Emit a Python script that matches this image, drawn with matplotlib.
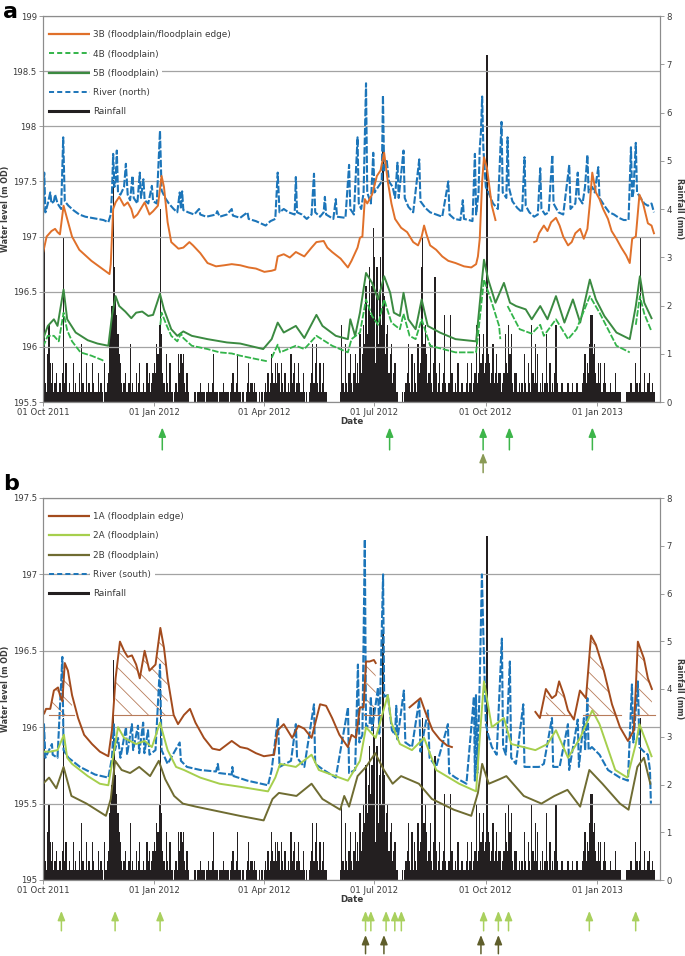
import numpy as np
import pandas as pd
import matplotlib
matplotlib.use('Agg')
import matplotlib.pyplot as plt
import matplotlib.dates as mdates
from matplotlib.lines import Line2D
from matplotlib.ticker import FuncFormatter, MultipleLocator
from matplotlib.transforms import blended_transform_factory

START = pd.Timestamp('2011-10-01')

# ---- daily rainfall (mm), one list per month, from 01 Oct 2011 ----
rain_oct11 = [0.2, 3.2, 0.4, 0.2, 1.0, 1.6, 0.8, 0.4, 0.8, 0.2,
              0.4, 0.6, 0.2, 0.2, 0.4, 0.2, 0.6, 3.4, 0.4, 0.8,
              0.2, 0.2, 0.4, 0.2, 0.2, 0.8, 0.2, 0.4, 0.2, 0.2, 0.6]
rain_nov11 = [0.2, 1.2, 0.4, 0.2, 0.2, 0.8, 0.2, 0.4, 0.2, 0.2,
              0.8, 0.4, 0.2, 0.2, 0.2, 0.6, 0.2, 0.4, 0.2, 0.0,
              0.8, 0.2, 0.4, 0.6, 1.4, 1.6, 2.0, 4.6, 2.8, 2.2]
rain_dec11 = [1.8, 1.4, 1.0, 0.8, 0.4, 0.2, 0.4, 0.6, 0.2, 0.2,
              0.4, 1.2, 0.2, 0.4, 0.2, 0.2, 0.6, 0.2, 0.4, 0.8,
              0.2, 0.2, 0.4, 0.2, 0.2, 0.8, 0.4, 0.6, 0.2, 0.4, 0.6]
rain_jan12 = [0.8, 0.6, 1.2, 1.0, 1.6, 4.0, 1.4, 0.6, 0.4, 0.2,
              1.0, 0.4, 0.2, 0.8, 0.2, 0.2, 0.0, 0.2, 0.4, 0.2,
              1.0, 0.6, 1.0, 0.8, 1.0, 0.4, 0.2, 0.6, 0.2, 0.0, 0.0]
rain_feb12 = [0.0, 0.0, 0.2, 0.2, 0.0, 0.2, 0.2, 0.4, 0.2, 0.2,
              0.2, 0.0, 0.2, 0.2, 0.4, 0.2, 0.2, 0.4, 1.0, 0.2,
              0.2, 0.2, 0.0, 0.2, 0.2, 0.2, 0.4, 0.2, 0.2]
rain_mar12 = [0.2, 0.2, 0.0, 0.2, 0.4, 0.6, 0.2, 0.2, 0.4, 1.0,
              0.2, 0.2, 0.0, 0.2, 0.2, 0.0, 0.2, 0.4, 0.8, 0.2,
              0.4, 0.4, 0.2, 0.4, 0.2, 0.0, 0.0, 0.2, 0.0, 0.2, 0.0]
rain_apr12 = [0.2, 0.4, 0.2, 0.6, 0.2, 0.4, 1.0, 0.6, 0.4, 0.8,
              0.4, 0.8, 0.6, 0.2, 0.8, 0.4, 0.2, 0.6, 0.2, 0.2,
              0.4, 0.2, 1.0, 0.4, 0.6, 0.8, 0.2, 0.4, 0.8, 0.4]
rain_may12 = [0.2, 0.2, 0.6, 0.2, 0.0, 0.2, 0.0, 0.2, 0.4, 0.6,
              1.2, 0.4, 0.8, 1.2, 0.4, 0.2, 0.8, 0.2, 0.4, 0.8,
              0.2, 0.2, 0.0, 0.0, 0.0, 0.0, 0.0, 0.0, 0.0, 0.0, 0.0]
rain_jun12 = [0.0, 0.0, 0.2, 1.6, 0.4, 0.2, 1.2, 0.4, 0.2, 0.6,
              1.0, 0.4, 0.2, 0.6, 1.0, 0.4, 0.8, 0.4, 1.4, 0.6,
              1.0, 1.6, 1.2, 2.4, 1.4, 2.0, 2.8, 1.8, 2.4, 3.6]
rain_jul12 = [3.0, 0.8, 2.8, 1.2, 2.2, 3.0, 1.6, 5.2, 2.2, 1.0,
              1.4, 1.6, 0.6, 1.0, 1.2, 0.4, 0.6, 0.8, 0.2, 0.2,
              0.0, 0.0, 0.0, 0.2, 0.0, 0.2, 0.4, 0.6, 1.2, 0.4, 0.2]
rain_aug12 = [1.0, 0.2, 0.8, 0.4, 0.2, 1.2, 0.6, 0.8, 2.8, 3.4,
              1.2, 1.6, 1.0, 0.4, 0.6, 1.2, 0.4, 0.2, 0.8, 2.6,
              0.6, 0.2, 0.4, 0.8, 0.2, 0.4, 0.6, 1.8, 0.4, 0.2, 0.4]
rain_sep12 = [0.4, 1.8, 0.6, 0.2, 0.2, 0.4, 0.2, 0.8, 0.2, 0.2,
              0.4, 0.4, 0.2, 0.2, 0.4, 0.8, 0.2, 0.4, 0.8, 0.2,
              0.4, 0.6, 1.6, 0.4, 0.6, 1.4, 0.8, 1.0, 1.4, 0.6]
rain_oct12 = [0.8, 7.2, 1.0, 0.8, 0.4, 0.6, 1.2, 0.4, 0.6, 1.0,
              0.4, 0.6, 0.6, 0.2, 0.4, 0.6, 1.4, 0.8, 0.6, 1.6,
              1.0, 1.4, 0.4, 0.2, 0.6, 0.6, 0.2, 0.2, 0.4, 0.2, 0.4]
rain_nov12 = [0.2, 1.0, 0.4, 0.2, 0.8, 0.4, 0.2, 1.6, 0.6, 0.4,
              1.2, 0.4, 1.0, 0.2, 0.4, 0.2, 0.6, 0.2, 0.4, 1.4,
              0.4, 0.2, 0.8, 0.2, 0.4, 0.2, 0.6, 1.6, 0.4, 0.2]
rain_dec12 = [0.2, 0.2, 0.4, 0.2, 0.2, 0.2, 0.2, 0.4, 0.2, 0.2,
              0.2, 0.4, 0.2, 0.2, 0.4, 0.4, 0.2, 0.2, 0.2, 0.4,
              0.6, 1.0, 0.4, 0.8, 0.6, 1.2, 1.8, 1.8, 1.0, 1.2, 0.6]
rain_jan13 = [0.4, 0.8, 0.4, 0.8, 0.2, 0.4, 0.8, 0.4, 0.2, 0.2,
              0.2, 0.4, 0.2, 0.2, 0.2, 0.6, 0.2, 0.2, 0.2, 0.2,
              0.0, 0.0, 0.0, 0.0, 0.2, 0.2, 0.2, 0.2, 0.4, 0.2, 0.2]
rain_feb13 = [0.2, 0.8, 0.4, 0.2, 0.4, 3.4, 0.2, 0.2, 0.6, 0.2,
              0.2, 0.4, 0.6, 0.2, 0.2, 0.4, 0.2]

rainfall = (rain_oct11 + rain_nov11 + rain_dec11 + rain_jan12 + rain_feb12 +
            rain_mar12 + rain_apr12 + rain_may12 + rain_jun12 + rain_jul12 +
            rain_aug12 + rain_sep12 + rain_oct12 + rain_nov12 + rain_dec12 +
            rain_jan13 + rain_feb13)

nan = np.nan

# ---- water levels (m OD): (days since 01 Oct 2011, level), nan = no record ----
# panel a
lvl_3b = [(0, 196.85), (3, 197.0), (7, 197.05), (10, 197.07), (12, 197.04), (14, 197.02),
          (17, 197.28), (19, 197.2), (24, 197.0), (30, 196.88), (40, 196.78), (50, 196.70),
          (55, 196.66), (56, 196.75), (58, 197.25), (60, 197.31), (63, 197.36), (67, 197.28),
          (70, 197.31), (73, 197.25), (75, 197.17), (78, 197.2), (84, 197.31), (88, 197.2),
          (91, 197.23), (95, 197.28), (98, 197.55), (100, 197.45), (103, 197.13), (106, 196.95),
          (109, 196.92), (112, 196.89), (116, 196.9), (121, 196.95), (124, 196.92), (130, 196.85),
          (136, 196.76), (143, 196.73), (150, 196.74), (156, 196.75), (163, 196.74), (170, 196.72),
          (176, 196.71), (183, 196.68), (189, 196.69), (192, 196.7), (194, 196.82), (199, 196.84),
          (204, 196.81), (209, 196.86), (216, 196.82), (222, 196.9), (226, 196.95), (232, 196.96),
          (235, 196.9), (239, 196.86), (246, 196.8), (252, 196.72), (255, 196.78), (260, 196.9),
          (262, 196.99), (264, 197.0), (266, 197.34), (268, 197.3), (272, 197.38), (276, 197.55),
          (279, 197.6), (282, 197.76), (285, 197.5), (288, 197.3), (291, 197.16), (296, 197.08),
          (301, 197.04), (306, 196.95), (310, 196.92), (313, 197.0), (315, 197.1), (317, 197.02),
          (320, 196.92), (325, 196.88), (330, 196.82), (335, 196.78), (341, 196.76), (348, 196.73),
          (354, 196.72), (358, 196.75), (359.5, 196.82), (361, 196.98), (363, 197.5), (364.5, 197.72),
          (367, 197.62), (371, 197.28), (374, 197.15), (390, nan),
          (406, 196.95), (408, 196.96), (410, 197.03), (414, 197.1), (417, 197.05), (420, 197.13),
          (424, 197.17), (427, 197.1), (430, 197.0), (434, 196.92), (437, 196.95), (440, 197.03),
          (444, 197.07), (447, 196.98), (450, 197.07), (452, 197.3), (454, 197.58), (457, 197.4),
          (460, 197.34), (463, 197.25), (467, 197.16), (470, 197.05), (474, 196.98), (478, 196.9),
          (482, 196.83), (485, 196.76), (487, 196.98), (490, 197.0), (493, 197.38), (496, 197.3),
          (500, 197.12), (503, 197.1), (505, 197.03)]

lvl_4b = [(0, 196.0), (4, 196.1), (9, 196.1), (13, 196.05), (17, 196.31), (20, 196.15), (24, 196.05),
          (31, 195.95), (40, 195.92), (49, 195.88), (50.4, 195.87), (70, nan),
          (97, 196.2), (98, 196.31), (102, 196.2), (106, 196.1), (111, 196.05), (114, 196.12),
          (116, 196.08), (123, 196.01), (136, 195.98), (146, 195.95), (156, 195.94), (163, 195.92),
          (176, 195.89), (185, 195.87), (187, nan),
          (189, 195.9), (194, 196.02), (196, 195.95), (209, 196.01), (216, 195.98), (226, 196.1),
          (239, 196.01), (252, 195.95), (255, 196.07), (262, 196.13), (267, 196.43), (272, 196.28),
          (277, 196.2), (282, 196.43), (288, 196.22), (295, 196.16), (298, 196.3), (303, 196.1),
          (308, 196.07), (313, 196.25), (320, 196.01), (341, 195.95), (358, 195.95),
          (364.5, 196.61), (371, 196.4), (377, 196.19), (378, 196.07), (380, nan),
          (384, 196.37), (394, 196.16), (404, 196.12), (411, 196.2), (414, 196.1), (424, 196.25),
          (434, 196.07), (441, 196.16), (452, 196.46), (460, 196.31), (474, 196.01), (485, 195.95),
          (487, nan), (490, 196.2), (493.4, 196.46), (497, 196.3), (503, 196.14)]

lvl_5b = [(0, 196.07), (4, 196.19), (9, 196.25), (12, 196.19), (17, 196.52), (20, 196.25),
          (27, 196.13), (37, 196.06), (45, 196.03), (54, 196.01), (57, 196.28), (60, 196.46),
          (63, 196.37), (68, 196.32), (73, 196.26), (77, 196.31), (82, 196.32), (87, 196.28),
          (91, 196.29), (96.7, 196.48), (100, 196.34), (106, 196.16), (111, 196.1), (116, 196.14),
          (123, 196.1), (136, 196.07), (152, 196.04), (163, 196.03), (182, 195.98), (189, 196.07),
          (194, 196.22), (199, 196.13), (209, 196.19), (216, 196.08), (226, 196.29), (231, 196.19),
          (242, 196.1), (252, 196.07), (254, 196.25), (258, 196.1), (262, 196.31), (267, 196.67),
          (272, 196.58), (277, 196.43), (282, 196.64), (287, 196.49), (290, 196.31), (295, 196.28),
          (298, 196.49), (302, 196.25), (308, 196.16), (313, 196.43), (318, 196.19), (328, 196.13),
          (341, 196.07), (358, 196.05), (364.5, 196.79), (368, 196.61), (374, 196.4), (381, 196.58),
          (386, 196.4), (391, 196.37), (399, 196.34), (404, 196.25), (411, 196.37), (417, 196.25),
          (424, 196.46), (431, 196.22), (438, 196.43), (444, 196.22), (452, 196.61), (457, 196.43),
          (464, 196.28), (474, 196.13), (485, 196.07), (490, 196.37), (493.4, 196.64), (497, 196.4),
          (503, 196.26)]

lvl_river_n = [(0, 197.19), (1, 197.58), (2, 197.22), (4, 197.3), (6, 197.4), (7, 197.3), (9, 197.32),
               (10, 197.38), (12, 197.3), (15, 197.25), (16.7, 197.9), (18, 197.32), (21, 197.28),
               (25, 197.24), (30, 197.2), (35, 197.18), (40, 197.17), (45, 197.16), (50, 197.15),
               (54, 197.13), (56, 197.2), (57, 197.4), (58, 197.75), (59, 197.45), (60, 197.5),
               (61, 197.78), (62, 197.4), (64, 197.38), (67, 197.45), (68.5, 197.66), (70, 197.38),
               (72, 197.33), (74, 197.55), (75, 197.35), (78, 197.3), (80, 197.58), (81, 197.35),
               (83, 197.52), (84, 197.33), (87, 197.3), (90, 197.46), (91, 197.32), (94, 197.3),
               (96.7, 197.96), (98, 197.42), (101, 197.35), (104, 197.3), (108, 197.25), (111, 197.22),
               (113, 197.4), (114, 197.25), (115, 197.41), (116, 197.24), (120, 197.22), (125, 197.2),
               (129, 197.25), (130, 197.2), (135, 197.18), (143, 197.2), (144, 197.23), (146, 197.18),
               (152, 197.2), (156, 197.25), (157, 197.19), (163, 197.17), (169, 197.22), (170, 197.16),
               (176, 197.14), (184, 197.1), (188, 197.14), (192, 197.16), (194, 197.58), (195.5, 197.22),
               (199, 197.25), (203, 197.22), (208, 197.2), (209, 197.54), (210, 197.22), (214, 197.2),
               (218, 197.16), (222, 197.2), (224, 197.57), (225, 197.22), (229, 197.18), (232, 197.22),
               (233, 197.36), (234, 197.2), (240, 197.16), (242, 197.34), (243, 197.18), (250, 197.17),
               (253, 197.65), (254, 197.25), (257, 197.2), (260, 197.9), (261, 197.3), (263, 197.25),
               (265, 197.4), (267, 198.39), (268, 197.4), (271, 197.3), (273, 197.76), (274, 197.4),
               (277, 197.45), (280, 197.5), (281, 198.28), (282, 197.6), (284, 197.7), (286, 197.5),
               (289, 197.45), (291, 197.35), (293, 197.67), (294, 197.35), (298, 197.78), (299, 197.35),
               (302, 197.27), (306, 197.22), (311, 197.7), (312, 197.32), (316, 197.26), (320, 197.22),
               (325, 197.2), (330, 197.18), (335, 197.5), (336, 197.2), (340, 197.16), (345, 197.15),
               (347, 197.33), (348, 197.16), (352, 197.15), (355, 197.14), (357, 197.75), (358, 197.2),
               (360, 197.4), (361, 197.8), (362, 197.95), (363, 198.27), (364, 197.8), (366, 197.45),
               (369, 197.38), (372, 197.3), (376, 197.25), (379, 198.04), (380, 197.4), (383, 197.35),
               (384, 197.9), (385, 197.45), (388, 197.32), (392, 197.26), (396, 197.22), (398, 197.72),
               (399, 197.28), (402, 197.22), (406, 197.18), (409, 197.2), (411, 197.62), (412, 197.25),
               (415, 197.2), (418, 197.22), (421, 197.74), (422, 197.3), (426, 197.22), (430, 197.2),
               (435, 197.65), (436, 197.25), (440, 197.3), (442, 197.58), (443, 197.35), (446, 197.3),
               (448, 197.45), (450, 197.74), (451, 197.4), (454, 197.45), (456, 197.4), (459, 197.63),
               (460, 197.35), (464, 197.28), (468, 197.22), (472, 197.2), (476, 197.17), (480, 197.15),
               (484, 197.15), (486, 197.81), (487, 197.35), (488, 197.4), (490, 197.85), (491, 197.4),
               (494, 197.35), (497, 197.3), (500, 197.28), (503, 197.3), (505, 197.22)]

# panel b
lvl_1a = [(1, 196.09), (2.5, 196.12), (6, 196.12), (9, 196.24), (12.4, 196.26), (14, 196.21),
          (16, 196.17), (18, 196.42), (20.6, 196.37), (24, 196.21), (29, 196.06), (34, 195.95),
          (40.5, 195.89), (47, 195.84), (54, 195.81), (57, 195.98), (60, 196.32), (63.6, 196.56),
          (67, 196.5), (70, 196.46), (73.5, 196.47), (77, 196.41), (80, 196.32), (84, 196.5),
          (88, 196.37), (93, 196.41), (97, 196.65), (100, 196.52), (103, 196.32), (108, 196.08),
          (111.6, 196.02), (116.5, 196.08), (121.5, 196.12), (126, 196.03), (133, 195.93),
          (140, 195.86), (146, 195.85), (156, 195.91), (163, 195.87), (169, 195.86), (176, 195.83),
          (182.6, 195.81), (191, 195.82), (194, 195.98), (199, 196.02), (206, 195.93), (211, 196.01),
          (216, 195.99), (222, 195.93), (229, 196.15), (234, 196.14), (239, 196.06), (245, 195.95),
          (252, 195.87), (255, 195.95), (258.7, 195.93), (262, 196.13), (265, 196.13), (267, 196.43),
          (270, 196.43), (273.5, 196.44), (275, 196.42), (290, nan),
          (303, 196.13), (306, 196.15), (312, 196.19), (316, 196.1), (322, 195.98), (328, 195.92),
          (334, 195.88), (338, 195.87), (370, nan),
          (407, 196.1), (410.7, 196.06), (415.7, 196.25), (420.7, 196.19), (424, 196.21),
          (426.6, 196.3), (430.6, 196.21), (433.9, 196.11), (438.8, 196.05), (443.8, 196.24),
          (448.8, 196.19), (453, 196.6), (457, 196.54), (463.6, 196.37), (470.3, 196.15),
          (476.9, 196.0), (483.5, 195.91), (488.4, 195.98), (491.7, 196.56), (496.7, 196.45),
          (500, 196.32), (503.3, 196.25)]

lvl_2a = [(1, 195.84), (6, 195.84), (12, 195.85), (17.3, 195.95), (20, 195.8), (24, 195.76),
          (37, 195.68), (47, 195.63), (54, 195.62), (57, 195.76), (62, 196.0), (67, 195.93),
          (77, 195.89), (84, 195.91), (90, 195.87), (96.7, 196.03), (103, 195.85), (110, 195.74),
          (116.5, 195.72), (130, 195.67), (146, 195.63), (163, 195.61), (186, 195.58), (192, 195.67),
          (196, 195.76), (209, 195.74), (222, 195.82), (228, 195.72), (252, 195.65), (262, 195.78),
          (267, 196.0), (275, 195.93), (285, 196.21), (288, 196.03), (295, 195.89), (305, 195.85),
          (315, 195.93), (325, 195.72), (344, 195.63), (358, 195.58), (361, 195.93), (364.5, 196.3),
          (371, 196.0), (381, 196.06), (387, 195.89), (397, 195.87), (407, 195.85), (417, 195.89),
          (424, 195.98), (434, 195.8), (444, 195.93), (454, 196.11), (460, 196.02), (473, 195.72),
          (483, 195.67), (490, 195.89), (493, 196.02), (503, 195.81)]

lvl_2b = [(0, 195.63), (5, 195.67), (11, 195.6), (17, 195.74), (23.5, 195.55), (36, 195.5),
          (52, 195.42), (56, 195.53), (59.6, 195.78), (65, 195.72), (72, 195.7), (79.5, 195.74),
          (88.5, 195.68), (95.7, 195.78), (101, 195.66), (108.4, 195.55), (115.6, 195.5),
          (126.4, 195.48), (144.5, 195.45), (162.6, 195.42), (182.4, 195.39), (189.7, 195.53),
          (195, 195.57), (209.5, 195.55), (222, 195.63), (231, 195.53), (245.7, 195.46),
          (249, 195.55), (253, 195.48), (260, 195.68), (267, 195.74), (274.6, 195.83),
          (281.8, 195.72), (289, 195.63), (296, 195.68), (310.7, 195.63), (321.5, 195.53),
          (339.6, 195.46), (354, 195.42), (359.5, 195.57), (363, 195.76), (368.5, 195.63),
          (377.5, 195.66), (383, 195.68), (397.4, 195.55), (412, 195.5), (422.7, 195.55),
          (433.5, 195.59), (444, 195.48), (451.6, 195.72), (462.4, 195.63), (476.9, 195.5),
          (484, 195.46), (491.3, 195.74), (496.7, 195.8), (502, 195.63)]

lvl_river_s = [(0, 195.82), (0.8, 196.02), (2, 195.8), (5, 195.85), (7.4, 195.89), (8, 195.82),
               (12, 195.8), (16, 196.46), (17, 195.85), (21, 195.8), (30.6, 195.74), (43, 195.69),
               (54, 195.67), (57, 195.8), (58.5, 196.02), (59.5, 195.85), (62, 195.93), (64, 195.8),
               (68.6, 196.0), (69.5, 195.82), (73.5, 196.02), (74.5, 195.85), (78.5, 196.01),
               (79.5, 195.83), (82.8, 196.03), (83.8, 195.83), (86.8, 195.98), (88, 195.82),
               (93, 195.85), (96.7, 196.41), (98, 195.85), (103, 195.76), (113, 195.9), (114, 195.78),
               (119, 195.74), (130, 195.72), (143, 195.71), (144.5, 195.76), (145.5, 195.7),
               (156, 195.69), (156.5, 195.74), (157.5, 195.68), (169, 195.65), (186, 195.62),
               (189, 195.72), (194.2, 196.06), (195.5, 195.74), (205, 195.78), (209, 196.02),
               (210, 195.8), (216, 195.74), (224, 196.15), (225, 195.76), (232, 195.72), (242, 195.67),
               (252.1, 196.13), (253, 195.7), (258, 195.72), (260.3, 196.41), (261.5, 195.9),
               (264, 195.95), (266, 197.23), (267, 196.0), (270, 196.02), (271, 196.2), (272, 195.98),
               (276.9, 196.26), (278, 195.95), (281.1, 197.0), (282, 196.2), (285, 196.21),
               (288.4, 195.98), (291, 195.95), (292, 196.14), (293, 195.92), (298.3, 196.24),
               (299.5, 195.9), (305, 195.87), (311, 196.18), (312, 195.84), (318.2, 196.11),
               (319.5, 195.8), (325, 195.74), (334.7, 196.02), (335.7, 195.7), (341, 195.67),
               (350, 195.63), (356.2, 196.2), (357, 195.65), (357.9, 196.21), (359, 195.7),
               (361, 196.3), (362.8, 197.0), (364, 196.6), (366.1, 196.02), (368, 195.95),
               (371, 195.87), (375, 195.82), (379.3, 196.58), (380.3, 195.87), (382.6, 195.82),
               (385.9, 196.43), (387, 195.8), (390.9, 195.76), (397, 196.15), (398, 195.74),
               (404, 195.74), (410, 195.74), (414, 195.76), (420.7, 196.06), (421.7, 195.74),
               (427, 195.74), (433.9, 196.02), (434.9, 195.72), (442, 196.05), (443, 195.74),
               (447.1, 196.06), (448.1, 195.85), (450, 196.19), (451, 195.85), (453.7, 195.87),
               (460, 195.82), (467, 195.72), (476.9, 195.67), (483.5, 195.65), (486.8, 196.28),
               (488, 195.9), (491.7, 196.3), (493, 195.87), (496.7, 195.84), (500, 195.82),
               (501.7, 195.72), (502.5, 195.5)]

# hatched recession periods on 1A (day ranges) and their base level
hatch_spans = [(5, 26), (59, 107), (265, 279), (411, 435), (446, 478), (486, 506)]
hatch_base = 196.08

# arrows below the panels (days since 01 Oct 2011)
arrows_a_top = [98.6, 286.5, 363.8, 385.5, 454.1]
arrows_a_bottom = [363.8]
arrows_b_top = [15.2, 59.6, 96.8, 266.6, 271, 283.6, 290.8, 296.2, 364.2, 376.4, 384.8, 451.6, 489.9]
arrows_b_bottom = [266.6, 281.8, 362, 376.4]

# colours
c_3b, c_4b, c_5b = '#e0702a', '#33b44a', '#3b8a41'
c_river, c_rain = '#1c75b9', '#231f20'
c_1a, c_2a, c_2b = '#a34b1d', '#a6cf4d', '#6f6c32'
c_hatch = '#b77b5a'
c_grid, c_text = '#a3a3a3', '#3a3a3a'

plt.rcParams['font.family'] = ['DejaVu Sans']
plt.rcParams['hatch.linewidth'] = 0.6
plt.rcParams['hatch.color'] = c_hatch

DASH = (0, (3.6, 1.0))
LEG_DASH = (0, (2.6, 1.6))


def to_dates(days):
    return START + pd.to_timedelta(np.asarray(days, dtype=float), unit='D')


def plot_series(ax, pts, **kw):
    arr = np.array(pts, dtype=float)
    ax.plot(to_dates(arr[:, 0]), arr[:, 1], **kw)


def style_panel(ax, ax2, ylim, ystep):
    ax.set_xlim(to_dates([0, 510]))
    ax.set_ylim(*ylim)
    ax2.set_ylim(0, 8)
    ax.yaxis.set_major_locator(MultipleLocator(ystep))
    ax.yaxis.set_major_formatter(FuncFormatter(lambda v, p: f'{v:g}'))
    ax2.yaxis.set_major_locator(MultipleLocator(1))
    ax.xaxis.set_major_locator(mdates.MonthLocator(bymonth=[1, 4, 7, 10], bymonthday=1))
    ax.xaxis.set_major_formatter(mdates.DateFormatter('%d %b %Y'))
    ax.yaxis.grid(True, color=c_grid, lw=0.9)
    for a in (ax, ax2):
        for sp in a.spines.values():
            sp.set_color('#8c8c8c')
            sp.set_linewidth(0.8)
        a.tick_params(direction='out', length=3, width=0.6, color='#8c8c8c',
                      labelsize=6.1, labelcolor=c_text, pad=1.5)
    ax.set_xlabel('Date', fontsize=6.3, fontweight='bold', color=c_text, labelpad=0)
    ax.set_ylabel('Water level (m OD)', fontsize=5.8, fontweight='bold', color=c_text, labelpad=2)
    ax2.set_ylabel('Rainfall (mm)', fontsize=5.8, fontweight='bold', color=c_text,
                   rotation=270, labelpad=9)
    ax.set_zorder(ax2.get_zorder() + 1)
    ax.patch.set_visible(False)


def add_arrows(ax, days, y0, y1, color):
    tr = blended_transform_factory(ax.transData, ax.transAxes)
    for d in days:
        x = mdates.date2num(to_dates([d])[0])
        ax.annotate('', xy=(x, y0), xytext=(x, y1), xycoords=tr, textcoords=tr,
                    annotation_clip=False,
                    arrowprops=dict(arrowstyle='-|>,head_length=0.55,head_width=0.22',
                                    color=color, lw=1.1, shrinkA=0, shrinkB=0))


def add_legend(ax, handles, labels):
    leg = ax.legend(handles, labels, loc='upper left', bbox_to_anchor=(0.0, 0.979),
                    frameon=False, fontsize=6.4, handlelength=4.7, handletextpad=0.25,
                    labelspacing=1.15, borderpad=0.4, borderaxespad=0.3)
    for t in leg.get_texts():
        t.set_color(c_text)
        t.set_bbox(dict(facecolor='white', edgecolor='none', pad=2.5))


fig = plt.figure(figsize=(6.85, 9.56), dpi=100)
ax_a = fig.add_axes([43 / 685, 1 - 402 / 956, 617 / 685, 386 / 956])
ax_b = fig.add_axes([43 / 685, 1 - 880 / 956, 617 / 685, 382 / 956])

rain_dates = to_dates(np.arange(len(rainfall)))

# ---- panel a ----
ax_a2 = ax_a.twinx()
ax_a2.bar(rain_dates, rainfall, width=1.0, color=c_rain, linewidth=0)
plot_series(ax_a, lvl_river_n, color=c_river, lw=1.5, ls=DASH)
plot_series(ax_a, lvl_3b, color=c_3b, lw=1.4)
plot_series(ax_a, lvl_5b, color=c_5b, lw=1.4)
plot_series(ax_a, lvl_4b, color=c_4b, lw=1.3, ls=DASH)
style_panel(ax_a, ax_a2, (195.5, 199), 0.5)
add_legend(ax_a,
           [Line2D([], [], color=c_3b, lw=1.6), Line2D([], [], color=c_4b, lw=1.4, ls=LEG_DASH),
            Line2D([], [], color=c_5b, lw=1.6), Line2D([], [], color=c_river, lw=1.4, ls=LEG_DASH),
            Line2D([], [], color=c_rain, lw=2.2)],
           ['3B (floodplain/floodplain edge)', '4B (floodplain)', '5B (floodplain)',
            'River (north)', 'Rainfall'])
add_arrows(ax_a, arrows_a_top, -0.066, -0.124, '#3db54a')
add_arrows(ax_a, arrows_a_bottom, -0.132, -0.183, '#8a9a55')

# ---- panel b ----
ax_b2 = ax_b.twinx()
ax_b2.bar(rain_dates, rainfall, width=1.0, color=c_rain, linewidth=0)
plot_series(ax_b, lvl_river_s, color=c_river, lw=1.5, ls=DASH)
plot_series(ax_b, lvl_2b, color=c_2b, lw=1.4)
plot_series(ax_b, lvl_2a, color=c_2a, lw=1.4)

arr1a = np.array(lvl_1a, dtype=float)
for lo, hi in hatch_spans:
    m = (arr1a[:, 0] >= lo) & (arr1a[:, 0] <= hi) & ~np.isnan(arr1a[:, 1])
    dd, lv = arr1a[m, 0], arr1a[m, 1]
    ax_b.fill_between(to_dates(dd), hatch_base, lv, where=lv >= hatch_base, interpolate=True,
                      facecolor='none', edgecolor=c_hatch, hatch='\\\\', linewidth=0)
    ax_b.plot(to_dates([lo, hi]), [hatch_base, hatch_base], color=c_hatch, lw=0.8)
plot_series(ax_b, lvl_1a, color=c_1a, lw=1.4)

style_panel(ax_b, ax_b2, (195, 197.5), 0.5)
add_legend(ax_b,
           [Line2D([], [], color=c_1a, lw=1.6), Line2D([], [], color=c_2a, lw=1.6),
            Line2D([], [], color=c_2b, lw=1.6), Line2D([], [], color=c_river, lw=1.4, ls=LEG_DASH),
            Line2D([], [], color=c_rain, lw=2.2)],
           ['1A (floodplain edge)', '2A (floodplain)', '2B (floodplain)',
            'River (south)', 'Rainfall'])
add_arrows(ax_b, arrows_b_top, -0.081, -0.133, '#a9d05e')
add_arrows(ax_b, arrows_b_bottom, -0.144, -0.193, '#5f5e2b')

fig.text(0.004, 0.998, 'a', fontsize=16, fontweight='bold', va='top', ha='left')
fig.text(0.004, 1 - 474 / 956, 'b', fontsize=16, fontweight='bold', va='top', ha='left')

fig.savefig('out.png', dpi=100)
